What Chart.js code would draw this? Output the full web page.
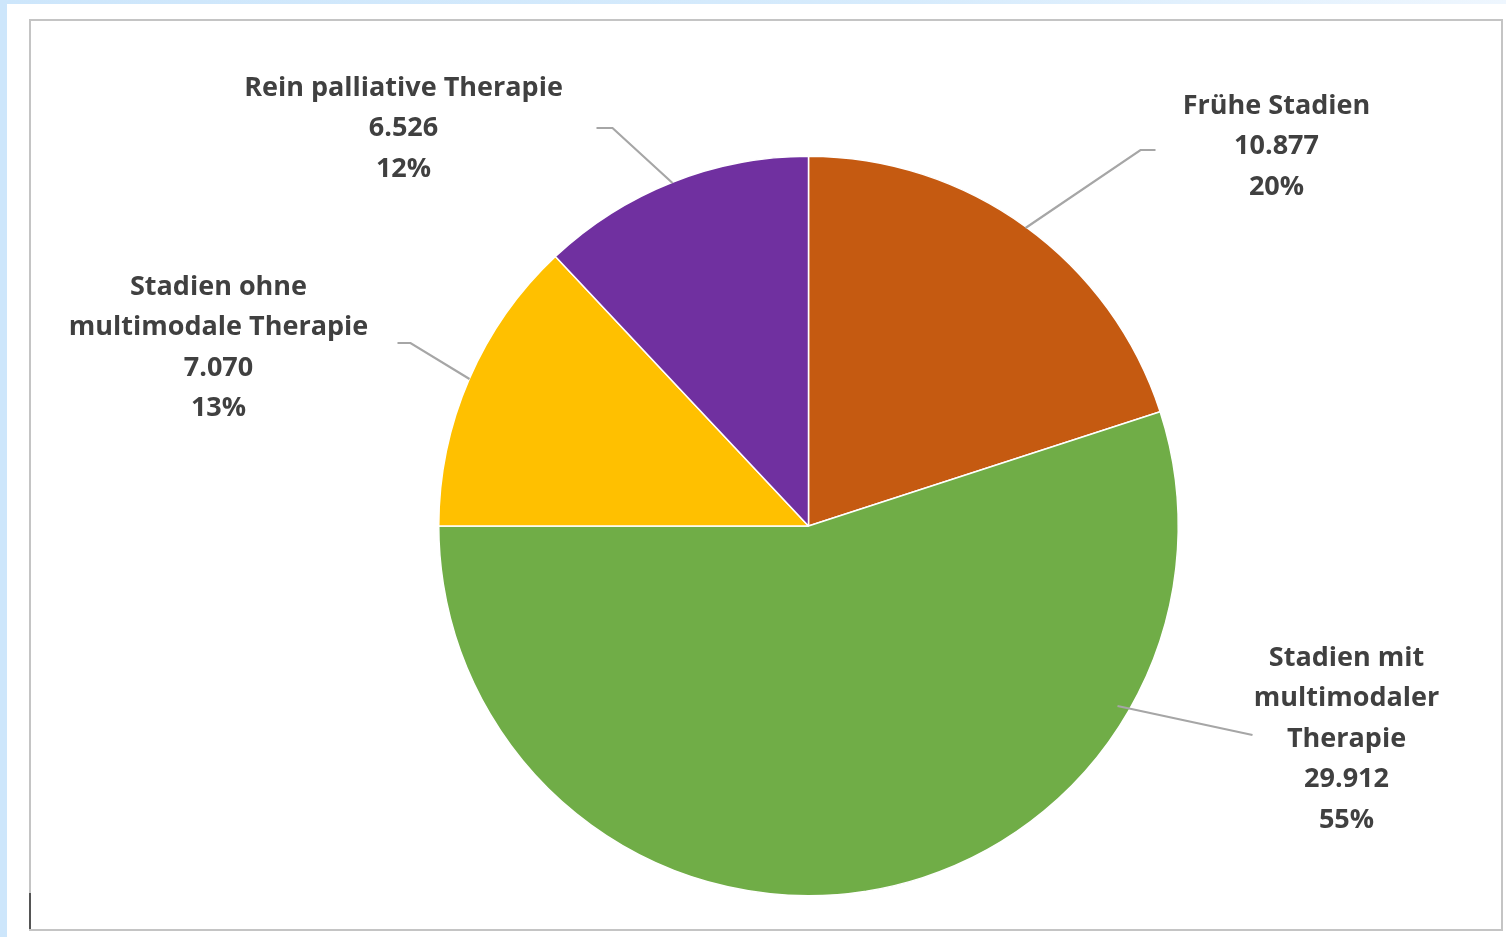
<!doctype html>
<html lang="de">
  <head>
    <meta charset="utf-8">
    <title>Stadienverteilung</title>
    <style>
      * { margin: 0; padding: 0; }
      body {
        width: 1506px;
        height: 937px;
        overflow: hidden;
        background: linear-gradient(to right, #cde6fb 0px, #d6ebfc 60%, #eef6fe 100%);
        position: relative;
      }
      .page {
        position: absolute;
        left: 7px;
        top: 4px;
        right: 0;
        bottom: 0;
        background: #fff;
      }
      .chartBox {
        position: absolute;
        left: 29px;
        top: 19px;
        width: 1470px;
        height: 908px;
        border: solid 2px #c4c4c4;
        background: white;
      }
      .tick {
        position: absolute;
        left: 29px;
        top: 893px;
        width: 2px;
        height: 36px;
        background: #555;
      }
    </style>
  </head>
  <body>
    <div class="page"></div>
    <div class="chartBox">
      <canvas id="myChart" width="1470" height="908"></canvas>
    </div>
    <div class="tick"></div>
    <script src="https://cdn.jsdelivr.net/npm/chart.js/dist/chart.umd.min.js"></script>
    <script>
    // data
    const categories = [
      ['Frühe Stadien'],
      ['Stadien mit', 'multimodaler', 'Therapie'],
      ['Stadien ohne', 'multimodale Therapie'],
      ['Rein palliative Therapie']
    ];
    const values = [10877, 29912, 7070, 6526];
    const colors = ['#C55A11', '#70AD47', '#FFC000', '#7030A0'];

    // label placement, px relative to pie centre
    const labelLayout = [
      { tx: 468, ty: -420, line: [[217, -298], [332, -376], [347, -376]] },
      { tx: 538, ty: 132, line: [[309, 180], [444, 209]] },
      { tx: -590, ty: -239, line: [[-339, -147], [-398, -183], [-411, -183]] },
      { tx: -405, ty: -438, line: [[-136, -343], [-196, -398], [-212, -398]] }
    ];

    const fmt = new Intl.NumberFormat('de-DE');

    const pieLabels = {
      id: 'pieLabels',
      afterDraw(chart) {
        const ctx = chart.ctx;
        const meta = chart.getDatasetMeta(0);
        const total = values.reduce((a, b) => a + b, 0);
        ctx.save();
        meta.data.forEach((arc, i) => {
          const { x, y } = arc.getProps(['x', 'y'], true);
          const lay = labelLayout[i];
          // leader line
          ctx.strokeStyle = '#a6a6a6';
          ctx.lineWidth = 2.2;
          ctx.beginPath();
          lay.line.forEach((p, k) => {
            if (k === 0) ctx.moveTo(x + p[0], y + p[1]);
            else ctx.lineTo(x + p[0], y + p[1]);
          });
          ctx.stroke();
          // text
          const lines = categories[i].concat([
            fmt.format(values[i]),
            Math.round(values[i] / total * 100) + '%'
          ]);
          ctx.fillStyle = '#404040';
          ctx.font = 'bold 27px "Open Sans"';
          ctx.textAlign = 'center';
          ctx.textBaseline = 'middle';
          lines.forEach((t, k) => {
            ctx.fillText(t, x + lay.tx, y + lay.ty + k * 40.5);
          });
        });
        ctx.restore();
      }
    };

    const config = {
      type: 'pie',
      data: {
        labels: categories.map(c => c.join(' ')),
        datasets: [{
          data: values,
          backgroundColor: colors,
          borderColor: '#ffffff',
          borderWidth: 1.5
        }]
      },
      options: {
        responsive: false,
        animation: false,
        layout: {
          padding: { left: 407, right: 322, top: 134, bottom: 32 }
        },
        plugins: {
          legend: { display: false },
          tooltip: { enabled: false }
        }
      },
      plugins: [pieLabels]
    };

    const myChart = new Chart(document.getElementById('myChart'), config);
    </script>
  </body>
</html>
